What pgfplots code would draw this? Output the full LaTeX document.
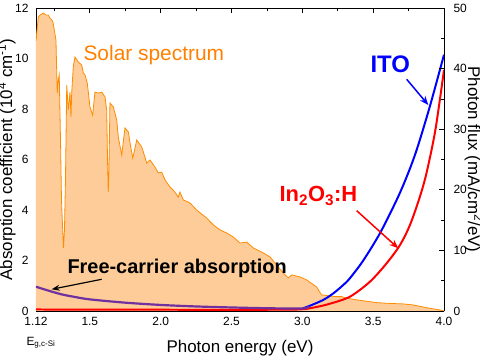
\documentclass[border=0pt]{standalone}
\usepackage{pgfplots}
\pgfplotsset{compat=1.18}
\usepackage{pgfplotstable}
\usepackage{fontspec}
\setmainfont{Liberation Sans}
\usetikzlibrary{arrows.meta}
\definecolor{solarfill}{RGB}{253,204,153}
\definecolor{solarline}{RGB}{255,140,0}
\definecolor{solartext}{RGB}{255,128,0}
\definecolor{fcpurple}{RGB}{112,48,160}

\pgfplotstableread{
E v
1.120 10.70
1.136 11.64
1.148 11.72
1.172 11.80
1.191 11.72
1.207 11.72
1.219 11.60
1.233 11.52
1.242 11.39
1.249 11.13
1.261 10.73
1.266 9.54
1.270 8.63
1.277 9.15
1.284 9.35
1.293 6.77
1.300 4.40
1.307 3.41
1.314 2.50
1.321 3.21
1.328 5.19
1.337 8.95
1.348 7.96
1.360 8.67
1.367 7.68
1.372 8.63
1.383 9.66
1.395 10.06
1.419 9.86
1.443 9.74
1.454 9.43
1.466 9.35
1.482 9.03
1.501 8.08
1.520 7.76
1.536 8.67
1.560 8.63
1.584 8.67
1.607 8.48
1.619 7.96
1.625 5.98
1.630 4.71
1.635 5.58
1.642 8.24
1.666 8.08
1.690 7.56
1.701 6.89
1.725 6.18
1.748 7.25
1.772 7.09
1.784 6.65
1.803 6.06
1.831 6.77
1.866 6.50
1.889 6.10
1.901 5.86
1.925 5.98
1.960 5.70
1.983 5.47
2.007 5.50
2.031 5.19
2.066 4.91
2.101 4.71
2.124 4.51
2.136 4.71
2.160 4.40
2.207 4.28
2.254 4.00
2.325 3.68
2.372 3.41
2.419 3.21
2.466 3.09
2.513 2.93
2.560 2.69
2.607 2.73
2.654 2.50
2.724 2.30
2.772 2.14
2.819 1.82
2.866 1.50
2.901 1.31
2.925 1.43
2.983 1.35
3.031 1.23
3.101 0.95
3.137 0.63
3.148 0.63
3.231 0.57
3.278 0.57
3.313 0.51
3.384 0.44
3.525 0.33
3.619 0.30
3.713 0.28
3.783 0.24
3.878 0.13
3.972 0.04
4.000 0.00
}\solar

\pgfplotstableread{
E v
1.12 0.96
1.20 0.82
1.30 0.66
1.40 0.55
1.50 0.46
1.75 0.33
2.00 0.24
2.25 0.18
2.50 0.14
2.75 0.11
3.00 0.10
3.05 0.18
}\freecarrier

\pgfplotstableread{
E v
3.000 0.10
3.050 0.20
3.148 0.44
3.219 0.70
3.289 1.03
3.336 1.30
3.430 2.00
3.548 3.08
3.666 4.40
3.737 5.32
3.807 6.38
3.900 8.10
4.000 10.15
}\ito

\pgfplotstableread{
E v
1.120 0.06
2.000 0.05
2.800 0.05
3.000 0.07
3.100 0.16
3.196 0.29
3.337 0.57
3.477 1.16
3.595 1.89
3.689 2.61
3.760 3.41
3.830 4.53
3.878 5.50
3.940 7.20
4.000 9.55
}\inoh

\begin{document}
\begin{tikzpicture}
\useasboundingbox (-36bp,-49bp) rectangle (444bp,311bp);
\begin{axis}[
  scale only axis, width=408bp, height=303bp,
  xmin=1.12, xmax=4.0, ymin=0, ymax=12,
  axis y line*=left,
  xtick={1.12,1.5,2,2.5,3,3.5,4},
  xticklabels={1.12,1.5,2.0,2.5,3.0,3.5,4.0},
  minor xtick={1.25,1.75,2.25,2.75,3.25,3.75},
  ytick={0,2,...,12}, minor ytick={1,3,...,11},
  tick align=inside,
  major tick length=5bp, minor tick length=3bp,
  every tick/.style={black, line width=0.8pt},
  axis line style={line width=0.8pt},
  tick label style={font=\fontsize{12}{12}\selectfont},
  xticklabel style={yshift=-3bp},
  yticklabel style={xshift=-4bp},
  /pgf/number format/assume math mode=true,
  clip=true,
]
\addplot[draw=none, fill=solarfill] table[x=E, y=v] {\solar} \closedcycle;
\addplot[solarline, line width=0.8pt] table[x=E, y=v] {\solar};
\addplot[red, line width=2pt, smooth] table[x=E, y=v] {\inoh};
\addplot[blue, line width=2pt, smooth] table[x=E, y=v] {\ito};
\addplot[fcpurple, line width=2.2pt, smooth] table[x=E, y=v] {\freecarrier};
\end{axis}
\begin{axis}[
  scale only axis, width=408bp, height=303bp,
  xmin=1.12, xmax=4.0, ymin=0, ymax=50,
  axis y line*=right, axis x line=none,
  ytick={0,10,...,50}, minor ytick={5,15,...,45},
  tick align=inside,
  major tick length=5bp, minor tick length=3bp,
  every tick/.style={black, line width=0.8pt},
  axis line style={line width=0.8pt},
  tick label style={font=\fontsize{12}{12}\selectfont},
  yticklabel style={xshift=6bp},
  /pgf/number format/assume math mode=true,
]
\end{axis}
\node[anchor=base, font=\fontsize{17}{17}\selectfont] at (204bp,-41bp) {Photon energy (eV)};
\node[anchor=base, rotate=90, font=\fontsize{17}{17}\selectfont] at (-24bp,151.5bp) {Absorption coefficient (10\textsuperscript{4} cm\textsuperscript{-1})};
\node[anchor=base, rotate=-90, font=\fontsize{17}{17}\selectfont] at (432bp,151.5bp) {Photon flux (mA/cm\textsuperscript{2}/eV)};
\node[anchor=base west, text=solartext, font=\fontsize{21}{21}\selectfont] at (44bp,250bp) {Solar spectrum};
\node[anchor=base west, text=blue, font=\bfseries\fontsize{24}{24}\selectfont] at (331bp,238bp) {ITO};
\node[anchor=base west, text=red, font=\bfseries\fontsize{22}{22}\selectfont] at (240bp,109bp) {In\textsubscript{2}O\textsubscript{3}:H};
\node[anchor=base west, text=black, font=\bfseries\fontsize{20}{20}\selectfont] at (28bp,38bp) {Free-carrier absorption};
\node[anchor=base west, font=\fontsize{12}{12}\selectfont] at (-13bp,-34bp) {E\textsubscript{g,c-Si}};
\draw[black, line width=1.2pt, -{Stealth[length=8bp,width=6bp]}] (65.7bp,31.7bp) -- (15.7bp,21.7bp);
\draw[blue, line width=1.5pt, -{Stealth[length=9bp,width=7bp]}] (370.7bp,231.7bp) -- (392.3bp,206bp);
\draw[red, line width=1.5pt, -{Stealth[length=9bp,width=7bp]}] (320.7bp,100.3bp) -- (362.3bp,62.7bp);
\end{tikzpicture}
\end{document}
